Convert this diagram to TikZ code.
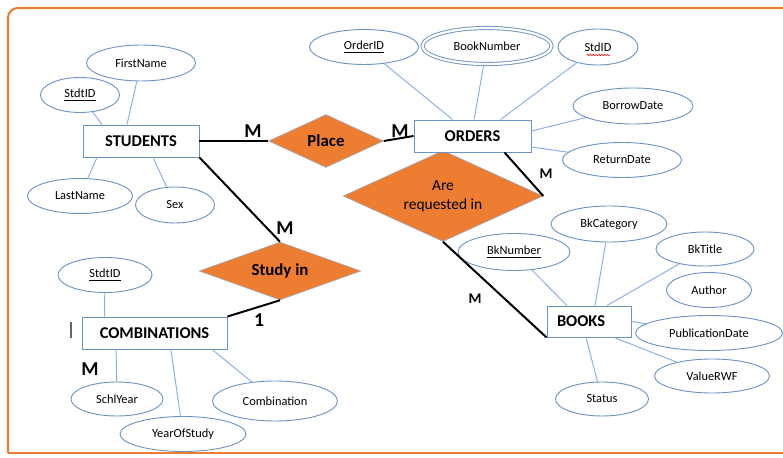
\documentclass[tikz,border=0pt]{standalone}
\usepackage{tikz}
\usepackage{xcolor}
\usepackage{fontspec}
\setmainfont{Carlito}
\usetikzlibrary{shapes.geometric,decorations.pathmorphing}

\definecolor{relorange}{HTML}{ED7D31}
\definecolor{entblue}{HTML}{6A93C4}
\definecolor{ellblue}{HTML}{6A93C4}
\definecolor{linkblue}{HTML}{9DC3E6}

\tikzset{
  entity/.style={draw=entblue, line width=0.65pt, fill=white, minimum height=0.8cm,
    inner sep=0pt, font=\fontsize{11.7}{13}\selectfont\bfseries},
  relation/.style={diamond, aspect=2.5, draw=linkblue!80!gray, line width=0.4pt, fill=relorange,
    inner sep=0pt},
  attr/.style={ellipse, draw=ellblue, line width=0.65pt, inner sep=0pt,
    font=\fontsize{8.8}{10}\selectfont},
  sz/.style 2 args={minimum width=#1*0.025cm, minimum height=#2*0.025cm},
  attrline/.style={linkblue!90!blue, line width=0.7pt},
  relline/.style={black, line width=1.4pt},
  bigm/.style={font=\fontsize{14}{16}\selectfont\bfseries, inner sep=0pt},
  smallm/.style={font=\fontsize{10.5}{12}\selectfont\bfseries, inner sep=0pt}
}

\begin{document}
\begin{tikzpicture}[x=0.025cm, y=-0.025cm]
\useasboundingbox (0,0) rectangle (783,458);

% Draw the frame
  \draw[relorange, line width=1.5pt, rounded corners=7pt] (8,453) -- (8,8) -- (800,8);
  \draw[relorange, line width=1.5pt, rounded corners=7pt] (8,453) -- (800,453);

% Draw the relationships
  \node[relation, sz={115}{53}, font=\fontsize{12}{14}\selectfont\bfseries] (place) at (326,141) {Place};
  \node[relation, sz={200}{91}, align=center, font=\fontsize{11}{13.5}\selectfont] (req) at (443,196) {Are\\requested in};
  \node[relation, sz={162}{58}, font=\fontsize{12}{14}\selectfont\bfseries] (studyin) at (280,271) {Study in};

% Draw the entities
  \node[entity, sz={116}{32}] (students) at (141,141) {STUDENTS};
  \node[entity, sz={117}{32}] (orders) at (472.5,136) {ORDERS};
  \node[entity, sz={145}{32}] (comb) at (154.5,333) {COMBINATIONS};
  \node[entity, sz={84}{31}, text width=64*0.025cm, inner xsep=10*0.025cm, align=left] (books) at (589,321.5) {BOOKS};

% STUDENTS attributes
  \node[attr, sz={109}{36}] (fname) at (141,63) {FirstName};
  \node[attr, sz={79}{35}] (stdtid) at (80,95) {\underline{StdtID}};
  \node[attr, sz={105}{35}] (lname) at (80,196) {LastName};
  \node[attr, sz={79}{36}] (sex) at (175,205) {Sex};
  \draw[attrline] (stdtid) -- ([xshift=-0.975cm]students.north);
  \draw[attrline] (fname) -- ([xshift=-0.35cm]students.north);
  \draw[attrline] (lname) -- ([xshift=-1.1cm]students.south);
  \draw[attrline] (sex) -- ([xshift=0.3cm]students.south);

% ORDERS attributes
  \node[attr, sz={109}{35}] (orderid) at (364,47) {\underline{OrderID}};
  \node[attr, sz={129}{36}, double, double distance=1.6pt] (booknum) at (487,46) {BookNumber};
  \node[attr, sz={80}{36}] (stdid) at (598,47) {StdID};
  \node[attr, sz={120}{36}] (borrow) at (633,106) {BorrowDate};
  \node[attr, sz={119}{35}] (return) at (622,160) {ReturnDate};
  \draw[red, line width=0.4pt, decorate, decoration={snake, amplitude=0.5pt, segment length=2pt}]
    ([xshift=-0.28cm, yshift=-0.2cm]stdid.center) -- ([xshift=0.3cm, yshift=-0.2cm]stdid.center);
  \draw[attrline] (orderid) -- ([xshift=-0.5cm]orders.north);
  \draw[attrline] (booknum) -- ([xshift=0.04cm]orders.north);
  \draw[attrline] (stdid) -- ([xshift=0.7cm]orders.north);
  \draw[attrline] (borrow) -- ([yshift=0.125cm]orders.east);
  \draw[attrline] (return) -- ([yshift=-0.275cm]orders.east);

% BOOKS attributes
  \node[attr, sz={116}{36}] (bkcat) at (609,224) {BkCategory};
  \node[attr, sz={112}{37}] (bknum) at (514,252) {\underline{BkNumber}};
  \node[attr, sz={98}{34}] (bktitle) at (705,249) {BkTitle};
  \node[attr, sz={85}{35}] (author) at (709,290) {Author};
  \node[attr, sz={147}{35}] (pubdate) at (709,333) {PublicationDate};
  \node[attr, sz={115}{34}] (value) at (712,376) {ValueRWF};
  \node[attr, sz={93}{34}] (status) at (602,399) {Status};
  \draw[attrline] (bknum) -- ([xshift=-0.55cm]books.north);
  \draw[attrline] (bkcat) -- ([xshift=0.15cm]books.north);
  \draw[attrline] (bktitle) -- ([xshift=0.45cm]books.north);
  \draw[attrline] (pubdate) -- (books.east);
  \draw[attrline] (value) -- ([xshift=0.625cm]books.south);
  \draw[attrline] (status) -- ([xshift=-0.075cm]books.south);

% COMBINATIONS attributes
  \node[attr, sz={94}{35}] (stdtid2) at (105,275) {\underline{StdtID}};
  \node[attr, sz={92}{34}] (schlyear) at (117,399) {SchlYear};
  \node[attr, sz={126}{35}] (yearstudy) at (183,434) {YearOfStudy};
  \node[attr, sz={125}{40}] (combattr) at (275,401) {Combination};
  \draw[attrline] (stdtid2) -- ([xshift=-1.25cm]comb.north);
  \draw[attrline] (schlyear) -- ([xshift=-0.96cm]comb.south);
  \draw[attrline] (yearstudy) -- ([xshift=0.41cm]comb.south);
  \draw[attrline] (combattr) -- ([xshift=1.44cm]comb.south);
  \draw[gray!80!black, line width=1.2pt] (71,322) -- (71,338);

% Draw the relationship lines
  \draw[relline] (students.east) -- (place.west);
  \draw[relline] (place.east) -- (orders.west);
  \draw[relline] (students.south east) -- (studyin.north);
  \draw[relline] (studyin.south) -- (comb.north east);
  \draw[relline] ([xshift=0.8cm]orders.south) -- (req.east);
  \draw[relline] (req.south) -- (books.south west);

% Cardinalities
  \node[bigm] (m1) at (253,131) {M};
  \node[bigm] (m2) at (400,131) {M};
  \node[bigm] (m3) at (285,228) {M};
  \node[bigm] (one) at (259,320) {1};
  \node[bigm] (m4) at (90,369) {M};
  \node[smallm] (m5) at (546,174) {M};
  \node[smallm] (m6) at (475,299) {M};

\end{tikzpicture}
\end{document}
